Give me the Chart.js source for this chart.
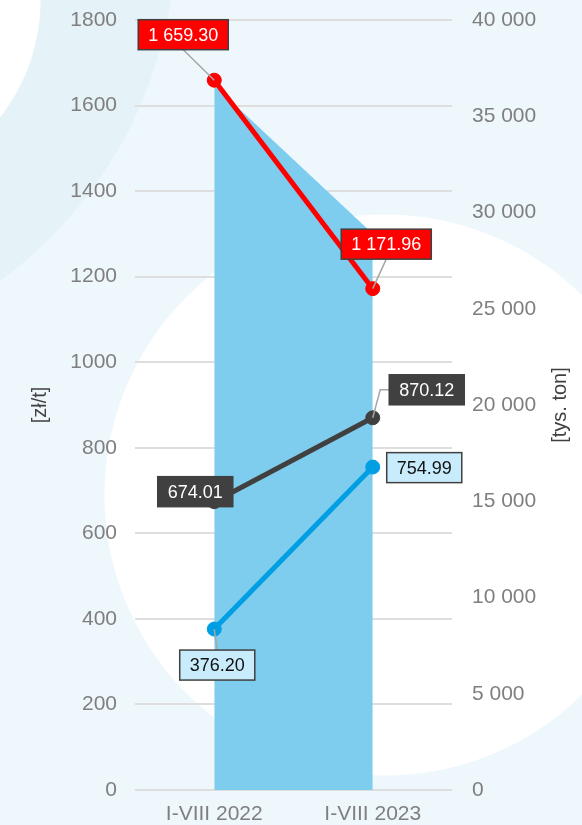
<!DOCTYPE html>
<html>
<head>
<meta charset="utf-8">
<script src="https://cdn.jsdelivr.net/npm/chart.js@4.4.0/dist/chart.umd.min.js"></script>
<style>
  html, body { margin: 0; padding: 0; }
  body {
    width: 582px;
    height: 825px;
    overflow: hidden;
    background:
      radial-gradient(circle at 385px 495px, #ffffff 0 280px, transparent 281px),
      radial-gradient(circle at -150px 0px, #ffffff 0 190px, transparent 191px),
      radial-gradient(circle at -251px -64px, #e5f2f8 0 426px, transparent 427px),
      #eef7fc;
  }
  canvas { display: block; }
</style>
</head>
<body>
<canvas id="chart" width="582" height="825"></canvas>
<script>
// dane
const categories = ['I-VIII 2022', 'I-VIII 2023'];
const priceRed = [1659.30, 1171.96];
const priceGray = [674.01, 870.12];
const priceBlue = [376.20, 754.99];
const volume = [36600, 28900];
const leftTicks = [0, 200, 400, 600, 800, 1000, 1200, 1400, 1600, 1800];
const rightTicks = [0, 5000, 10000, 15000, 20000, 25000, 30000, 35000, 40000];

// wygląd etykiet (przesunięcie ramki względem punktu)
const labelStyles = [
  { fill: '#ff0000', color: '#ffffff', border: '#404040', dx: [-31, 13.5], dy: [-45.5, -44.5], leader: ['bottom', 'bottom'] },
  { fill: '#404040', color: '#ffffff', border: '#404040', dx: [-19, 54], dy: [-10, -28], leader: [null, 'left'] },
  { fill: '#c9ecfc', color: '#111111', border: '#404040', dx: [3, 51.5], dy: [36, 0.6], leader: ['top', null] }
];

const FONT = "'Liberation Sans', Arial, sans-serif";

function fmt(v, dec) {
  const parts = v.toFixed(dec).split('.');
  parts[0] = parts[0].replace(/\B(?=(\d{3})+(?!\d))/g, ' ');
  return parts.join('.');
}

const labelPlugin = {
  id: 'boxLabels',
  afterDatasetsDraw(chart) {
    const ctx = chart.ctx;
    ctx.save();
    ctx.font = '18px ' + FONT;
    ctx.textAlign = 'center';
    ctx.textBaseline = 'middle';
    labelStyles.forEach((st, di) => {
      const meta = chart.getDatasetMeta(di);
      const ds = chart.data.datasets[di];
      meta.data.forEach((pt, i) => {
        const text = fmt(ds.data[i], 2);
        const w = ctx.measureText(text).width + 20;
        const h = 30;
        const cx = pt.x + st.dx[i];
        const cy = pt.y + st.dy[i];
        // linia odniesienia
        if (st.leader[i]) {
          ctx.strokeStyle = '#a6a6a6';
          ctx.lineWidth = 1.5;
          ctx.beginPath();
          if (st.leader[i] === 'bottom') {
            ctx.moveTo(cx, cy + h / 2);
            ctx.lineTo(pt.x, pt.y);
          } else if (st.leader[i] === 'top') {
            ctx.moveTo(cx, cy - h / 2);
            ctx.lineTo(pt.x, pt.y);
          } else if (st.leader[i] === 'left') {
            ctx.moveTo(cx - w / 2, cy);
            ctx.lineTo(cx - w / 2 - 9, cy);
            ctx.lineTo(pt.x, pt.y);
          }
          ctx.stroke();
        }
        ctx.fillStyle = st.fill;
        ctx.fillRect(cx - w / 2, cy - h / 2, w, h);
        ctx.strokeStyle = st.border;
        ctx.lineWidth = 1.5;
        ctx.strokeRect(cx - w / 2, cy - h / 2, w, h);
        ctx.fillStyle = st.color;
        ctx.fillText(text, cx, cy + 1);
      });
    });
    ctx.restore();
  }
};

const rightTitlePlugin = {
  id: 'rightTitle',
  afterDraw(chart) {
    const ctx = chart.ctx;
    const a = chart.chartArea;
    ctx.save();
    ctx.translate(560, (a.top + a.bottom) / 2);
    ctx.rotate(-Math.PI / 2);
    ctx.font = '20px ' + FONT;
    ctx.fillStyle = '#404040';
    ctx.textAlign = 'center';
    ctx.textBaseline = 'middle';
    ctx.fillText('[tys. ton]', 0, 0);
    ctx.restore();
  }
};

new Chart(document.getElementById('chart'), {
  type: 'line',
  data: {
    labels: categories,
    datasets: [
      {
        data: priceRed, yAxisID: 'y',
        borderColor: '#ff0000', backgroundColor: '#ff0000',
        borderWidth: 5, pointRadius: 7, pointBorderWidth: 1, fill: false
      },
      {
        data: priceGray, yAxisID: 'y',
        borderColor: '#404040', backgroundColor: '#404040',
        borderWidth: 5, pointRadius: 7, pointBorderWidth: 1, fill: false
      },
      {
        data: priceBlue, yAxisID: 'y',
        borderColor: '#009fe3', backgroundColor: '#009fe3',
        borderWidth: 5, pointRadius: 7, pointBorderWidth: 1, fill: false
      },
      {
        data: volume, yAxisID: 'y2',
        borderWidth: 0, pointRadius: 0,
        backgroundColor: '#7fcdee', fill: 'origin'
      }
    ]
  },
  options: {
    responsive: false,
    animation: false,
    layout: { padding: { top: 20 } },
    plugins: { legend: { display: false }, tooltip: { enabled: false } },
    scales: {
      x: {
        offset: true,
        grid: { display: false, drawTicks: false },
        border: { display: false },
        ticks: { color: '#7f7f7f', font: { family: FONT, size: 21 }, padding: 12, maxRotation: 0 },
        afterFit: s => { s.height = 35; }
      },
      y: {
        position: 'left',
        min: 0, max: 1800,
        afterBuildTicks: s => { s.ticks = leftTicks.map(v => ({ value: v })); },
        // odstęp etykiet przez niewidoczne kreski, żeby nie dokładać marginesu u góry
        grid: { color: '#dedede', lineWidth: 2, drawTicks: true, tickLength: 18, tickColor: 'rgba(0,0,0,0)' },
        border: { display: false },
        ticks: { color: '#7f7f7f', font: { family: FONT, size: 21 }, padding: 0, callback: v => String(v) },
        title: { display: true, text: '[zł/t]', color: '#404040', font: { family: FONT, size: 20 }, padding: { top: 28, bottom: 0 } },
        afterFit: s => { s.width = 135; }
      },
      y2: {
        position: 'right',
        min: 0, max: 40000,
        afterBuildTicks: s => { s.ticks = rightTicks.map(v => ({ value: v })); },
        grid: { display: true, drawOnChartArea: false, drawTicks: true, tickLength: 20, tickColor: 'rgba(0,0,0,0)', color: 'rgba(0,0,0,0)' },
        border: { display: false },
        ticks: { color: '#7f7f7f', font: { family: FONT, size: 21 }, padding: 0, callback: v => fmt(v, 0) },
        afterFit: s => { s.width = 130; }
      }
    }
  },
  plugins: [labelPlugin, rightTitlePlugin]
});
</script>
</body>
</html>
